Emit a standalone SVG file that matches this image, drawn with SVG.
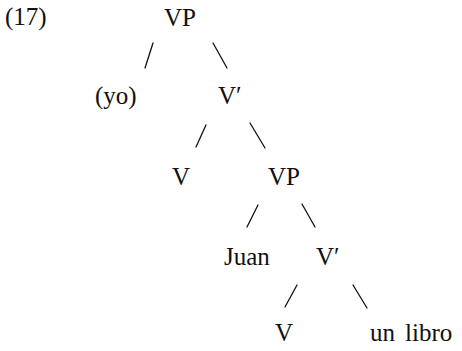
<svg xmlns="http://www.w3.org/2000/svg" width="462" height="351" viewBox="0 0 462 351">
<style>
.t{font-family:'Liberation Serif','DejaVu Serif',serif;font-size:25px;fill:#111}
.e{stroke:#111;stroke-width:1.3;stroke-linecap:round;fill:none}
</style>
<rect width="462" height="351" fill="#fff"/>
<g class="t">
<text id="label" x="5" y="25">(17)</text>
<g id="n-vp1"><text x="164" y="26">VP</text></g>
<g id="n-yo"><text x="95" y="104">(yo)</text></g>
<g id="n-vbar1"><text x="218" y="104">V′</text></g>
<g id="n-v1"><text x="172" y="185">V</text></g>
<g id="n-vp2"><text x="268" y="185">VP</text></g>
<g id="n-juan"><text x="224" y="265">Juan</text></g>
<g id="n-vbar2"><text x="316" y="265">V′</text></g>
<g id="n-v2"><text x="275" y="341">V</text></g>
<g id="n-unlibro"><text y="341"><tspan x="370">un</tspan><tspan x="405">libro</tspan></text></g>
</g>
<g id="edges">
<line class="e" x1="153" y1="43" x2="145" y2="68"/>
<line class="e" x1="213" y1="43" x2="227" y2="68"/>
<line class="e" x1="206" y1="125" x2="196" y2="147"/>
<line class="e" x1="250" y1="123" x2="265" y2="148"/>
<line class="e" x1="258" y1="205" x2="247" y2="227"/>
<line class="e" x1="302" y1="204" x2="315" y2="227"/>
<line class="e" x1="297" y1="285" x2="285" y2="307"/>
<line class="e" x1="353" y1="285" x2="367" y2="308"/>
</g>
</svg>
